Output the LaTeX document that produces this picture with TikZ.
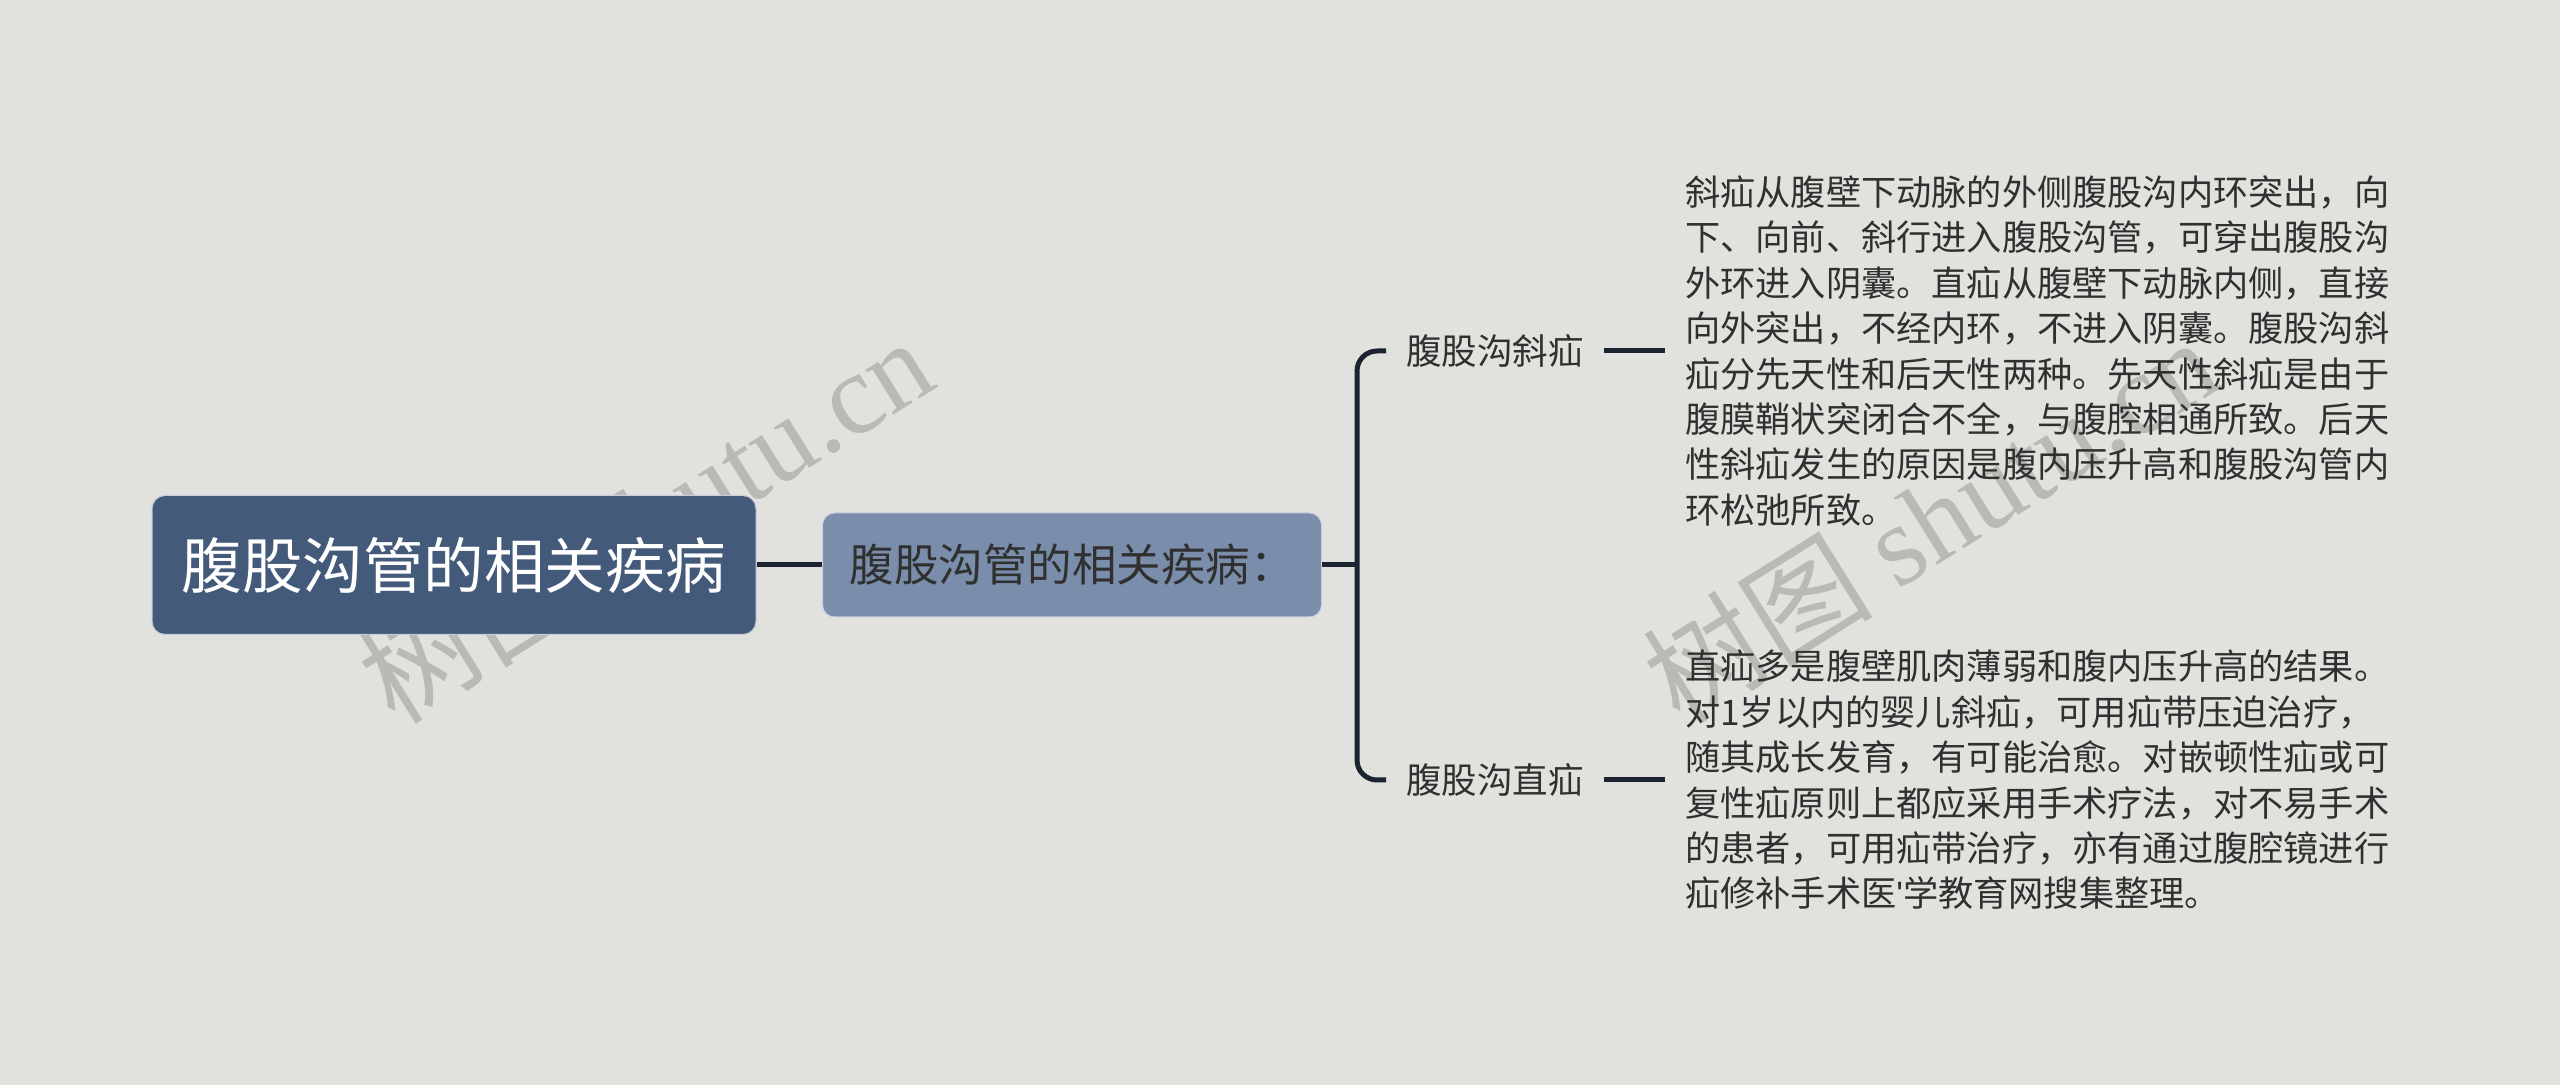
\documentclass[tikz,border=0pt]{standalone}
\usepackage{fontspec}
\setmainfont{Noto Sans CJK SC}
\newfontfamily\wmlatin{Liberation Serif}
\newfontfamily\latinsans[Ligatures=NoCommon]{Liberation Sans}
\definecolor{bg}{HTML}{E1E2DD}
\definecolor{rootfill}{HTML}{435A7A}
\definecolor{subfill}{HTML}{7A8DAB}
\definecolor{linec}{HTML}{1C2431}
\definecolor{txt}{HTML}{303030}
\definecolor{wm}{HTML}{B9BAB6}
\begin{document}
\begin{tikzpicture}[x=1pt,y=1pt,
  rootbox/.style={rectangle,rounded corners=13pt,fill=rootfill,draw=white!70!rootfill,line width=1pt,text=white,
    minimum width=604pt,minimum height=139pt,font=\fontsize{60.5}{70}\selectfont,inner sep=0pt},
  subbox/.style={rectangle,rounded corners=12pt,fill=subfill,draw=white!60!subfill,line width=1pt,text=txt,
    minimum width=499pt,minimum height=104pt,font=\fontsize{44.5}{52}\selectfont,inner sep=0pt},
  leaflabel/.style={text=txt,font=\fontsize{35.5}{40}\selectfont,inner xsep=20pt,inner ysep=4pt},
  leaftext/.style={text=txt,font=\fontsize{35.2}{45.4}\selectfont,align=left,inner xsep=20pt,inner ysep=0pt},
  conn/.style={draw=linec,line width=5pt},
  wmark/.style={text=wm,rotate=32,font=\fontsize{115}{120}\selectfont}
]
\useasboundingbox[fill=bg] (0,0) rectangle (2560,1085);
% watermarks
\node[wmark] (wm1) at (645,566) {树图 {\wmlatin shutu.cn}};
\node[wmark] (wm2) at (1930,566) {树图 {\wmlatin shutu.cn}};
% nodes
\node[rootbox] (root) at (454,520) {腹股沟管的相关疾病};
\node[subbox] (sub) at (1072,520) {腹股沟管的相关疾病：};
\coordinate (fork) at (1357,520);
\node[leaflabel,anchor=west] (la) at (1386,734) {腹股沟斜疝};
\node[leaflabel,anchor=west] (lb) at (1386,305) {腹股沟直疝};
\node[leaftext,anchor=west] (ta) at (1665,734) {斜疝从腹壁下动脉的外侧腹股沟内环突出，向\\下、向前、斜行进入腹股沟管，可穿出腹股沟\\外环进入阴囊。直疝从腹壁下动脉内侧，直接\\向外突出，不经内环，不进入阴囊。腹股沟斜\\疝分先天性和后天性两种。先天性斜疝是由于\\腹膜鞘状突闭合不全，与腹腔相通所致。后天\\性斜疝发生的原因是腹内压升高和腹股沟管内\\环松弛所致。};
\node[leaftext,anchor=west] (tb) at (1665,305) {直疝多是腹壁肌肉薄弱和腹内压升高的结果。\\对1岁以内的婴儿斜疝，可用疝带压迫治疗，\\随其成长发育，有可能治愈。对嵌顿性疝或可\\复性疝原则上都应采用手术疗法，对不易手术\\的患者，可用疝带治疗，亦有通过腹腔镜进行\\疝修补手术医{\latinsans\symbol{"27}}学教育网搜集整理。};
% connectors
\draw[conn] (root.east) -- (sub.west);
\draw[conn] (sub.east) -- (fork);
\draw[conn,rounded corners=20pt] (la.west) -| (fork) |- (lb.west);
\draw[conn] (la.east) -- (ta.west);
\draw[conn] (lb.east) -- (tb.west);
\end{tikzpicture}
\end{document}
